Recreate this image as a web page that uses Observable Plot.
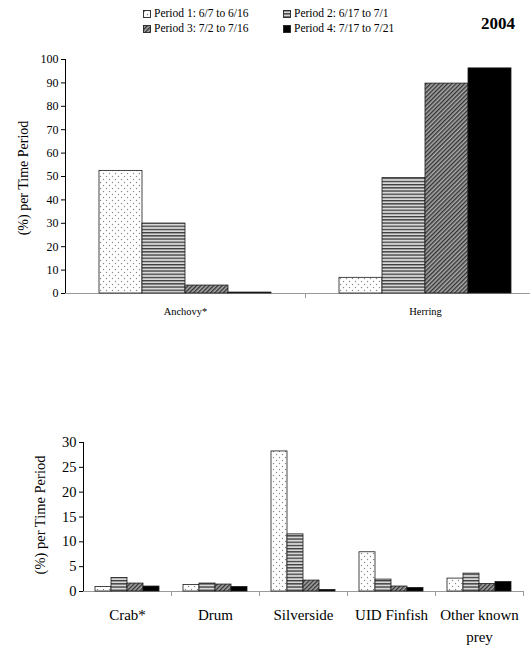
<!DOCTYPE html>
<html><head><meta charset="utf-8">
<script src="https://cdn.jsdelivr.net/npm/d3@7"></script>
<script src="https://cdn.jsdelivr.net/npm/@observablehq/plot@0.6"></script>
<style>
body{margin:0;background:#fff;font-family:"Liberation Serif","Times New Roman",serif;color:#000;}
#wrap{position:relative;width:530px;height:647px;overflow:hidden;background:#fff;}
#legend{position:absolute;left:143px;top:6px;font-size:11.5px;line-height:15px;}
.lg-item{position:absolute;white-space:nowrap;display:flex;align-items:center;gap:3px;}
.lg-item svg{display:block;}
#year{position:absolute;right:15px;top:14px;font-size:17px;font-weight:bold;}
#top{position:absolute;left:0;top:40px;}
#bottom{position:absolute;left:0;top:420px;}
.ytitle{position:absolute;white-space:nowrap;transform:translate(-50%,-50%) rotate(-90deg);}
</style></head><body>
<svg width="0" height="0" style="position:absolute">
<defs>
<pattern id="pat1" patternUnits="userSpaceOnUse" width="6" height="6">
 <rect width="6" height="6" fill="#fff"/>
 <circle cx="1.5" cy="1.5" r="0.7" fill="#888"/>
 <circle cx="4.5" cy="4.5" r="0.7" fill="#888"/>
</pattern>
<pattern id="pat2" patternUnits="userSpaceOnUse" width="4" height="3.2">
 <rect width="4" height="3.2" fill="#d8d8d8"/>
 <rect width="4" height="1.3" fill="#3a3a3a"/>
</pattern>
<pattern id="pat3" patternUnits="userSpaceOnUse" width="3" height="3" patternTransform="rotate(45)">
 <rect width="3" height="3" fill="#aaa"/>
 <rect width="1.4" height="3" fill="#333"/>
</pattern>
</defs></svg>
<div id="wrap">
 <div id="legend"></div>
 <div id="year">2004</div>
 <div id="top"></div>
 <div id="bottom"></div>
 <div class="ytitle" style="left:24px;top:178px;font-size:14px;">(%) per Time Period</div>
 <div class="ytitle" style="left:40px;top:515px;font-size:14.5px;">(%) per Time Period</div>
</div>
<script>
const periods = ["Period 1: 6/7 to 6/16", "Period 2: 6/17 to 7/1", "Period 3: 7/2 to 7/16", "Period 4: 7/17 to 7/21"];
const patternFills = ["url(#pat1)", "url(#pat2)", "url(#pat3)", "#000"];

const topCategories = ["Anchovy*", "Herring"];
const anchovyValues = [52.4, 29.9, 3.4, 0.4];
const herringValues = [6.7, 49.3, 89.7, 96.2];
const topTicks = [0, 10, 20, 30, 40, 50, 60, 70, 80, 90, 100];

const bottomCategories = ["Crab*", "Drum", "Silverside", "UID Finfish", "Other known prey"];
const crabValues = [0.9, 2.7, 1.6, 1.0];
const drumValues = [1.3, 1.6, 1.4, 0.9];
const silversideValues = [28.2, 11.5, 2.2, 0.3];
const uidFinfishValues = [7.9, 2.4, 1.0, 0.7];
const otherPreyValues = [2.6, 3.6, 1.5, 1.9];
const bottomTicks = [0, 5, 10, 15, 20, 25, 30];

function rowsFor(categories, series) {
  return categories.flatMap((c, i) => series[i].map((v, j) => ({category: c, period: periods[j], value: v})));
}
const topRows = rowsFor(topCategories, [anchovyValues, herringValues]);
const bottomRows = rowsFor(bottomCategories, [crabValues, drumValues, silversideValues, uidFinfishValues, otherPreyValues]);

// legend
const legend = d3.select("#legend");
const legendPos = [[0, 0], [140, 0], [0, 15], [140, 15]];
periods.forEach((p, i) => {
  const item = legend.append("div").attr("class", "lg-item")
    .style("left", legendPos[i][0] + "px").style("top", legendPos[i][1] + "px");
  const s = item.append("svg").attr("width", 8).attr("height", 8);
  s.append("rect").attr("x", 0.5).attr("y", 0.5).attr("width", 7).attr("height", 7)
    .attr("fill", patternFills[i]).attr("stroke", "#222").attr("stroke-width", 0.9);
  item.append("span").text(p);
});

function chart(o) {
  const step = (o.width - o.marginLeft - o.marginRight) / o.categories.length;
  return Plot.plot({
    width: o.width, height: o.height,
    marginTop: o.marginTop, marginBottom: o.marginBottom, marginLeft: o.marginLeft, marginRight: o.marginRight,
    style: {fontFamily: '"Liberation Serif", "Times New Roman", serif', fontSize: o.tickFont + "px", background: "transparent", color: "#000", overflow: "hidden"},
    facet: {data: o.rows, x: "category"},
    fx: {domain: o.categories, paddingInner: 0, paddingOuter: 0},
    x: {domain: periods, paddingInner: 0, paddingOuter: o.outerPad, axis: null},
    y: {domain: [0, o.yMax], ticks: o.yTicks, tickSize: 4, tickPadding: 3, line: true, label: null},
    color: {type: "ordinal", domain: periods, range: patternFills},
    marks: [
      Plot.ruleY([0], {stroke: "#9a9a9a"}),
      Plot.barY(o.rows, {x: "period", y: "value", fill: "period", stroke: "#1a1a1a", strokeWidth: 0.8}),
      Plot.axisFx({anchor: "bottom", tickSize: 0, tickPadding: o.labelPad, fontSize: o.labelFont, lineHeight: 1.45, label: null,
        tickFormat: d => d === "Other known prey" ? "Other known\nprey" : d}),
      Plot.axisFx({anchor: "bottom", tickSize: 5, tickFormat: () => "", dx: step / 2, stroke: "#9a9a9a", label: null})
    ]
  });
}

const topChart = chart({rows: topRows, categories: topCategories, yMax: 100, yTicks: topTicks,
  width: 530, height: 283, marginTop: 19, marginBottom: 30, marginLeft: 65, marginRight: -15,
  outerPad: 0.75, tickFont: 12, labelFont: 10.5, labelPad: 11});
const bottomChart = chart({rows: bottomRows, categories: bottomCategories, yMax: 30, yTicks: bottomTicks,
  width: 530, height: 227, marginTop: 22, marginBottom: 56, marginLeft: 83, marginRight: 7,
  outerPad: 0.7, tickFont: 14.5, labelFont: 15, labelPad: 13});

document.getElementById("top").append(topChart);
document.getElementById("bottom").append(bottomChart);

// gray axis strokes like the original
for (const svg of [topChart, bottomChart]) {
  d3.select(svg).selectAll('[aria-label^="y-axis"]').each(function() {
    const g = d3.select(this);
    if (g.attr("stroke")) g.attr("stroke", "#9a9a9a");
  });
}
</script>
</body></html>
